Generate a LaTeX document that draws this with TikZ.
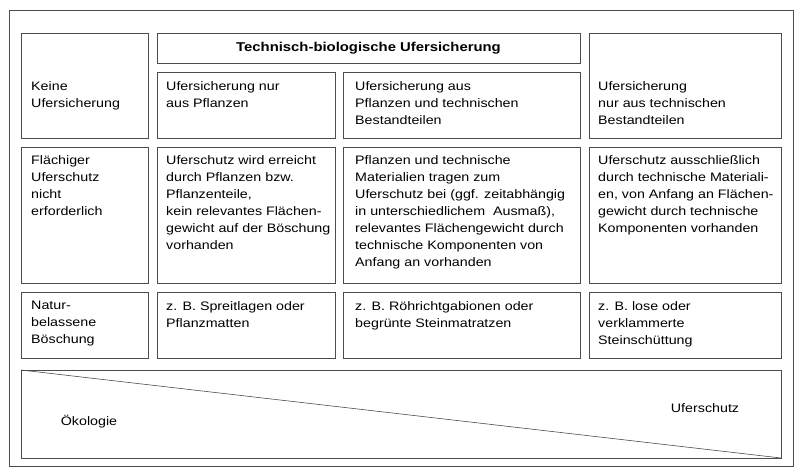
\documentclass[tikz,border=0pt]{standalone}
\usepackage{fontspec}
\setmainfont{Liberation Sans}[FakeStretch=1.16]
\begin{document}
\begin{tikzpicture}[x=1pt,y=-1pt,
  cell/.style={draw=black!70,line width=0.6pt},
  txt/.style={anchor=north west,align=left,font=\fontsize{12.3}{17}\selectfont,inner sep=0pt}]
\useasboundingbox (0,0) rectangle (800,474);
\draw[cell] (9,10) rectangle (793,466);
% header
\draw[cell] (157,33) rectangle (580,63);
\node[font=\bfseries\fontsize{12.8}{15}\selectfont] (hd) at (368.5,48) {Technisch-biologische Ufersicherung};
% row 1
\draw[cell] (21,33) rectangle (148,138);
\draw[cell] (157,72) rectangle (335,138);
\draw[cell] (343,72) rectangle (580,138);
\draw[cell] (589,33) rectangle (781,138);
\node[txt] (a1) at (31,81) {Keine\\Ufersicherung};
\node[txt] (b1) at (166,81) {Ufersicherung nur\\aus Pflanzen};
\node[txt] (c1) at (355,81) {Ufersicherung aus\\Pflanzen und technischen\\Bestandteilen};
\node[txt] (d1) at (598,81) {Ufersicherung\\nur aus technischen\\Bestandteilen};
% row 2
\draw[cell] (21,147) rectangle (148,283);
\draw[cell] (157,147) rectangle (335,283);
\draw[cell] (343,147) rectangle (580,283);
\draw[cell] (589,147) rectangle (781,283);
\node[txt] (a2) at (31,155) {Flächiger\\Uferschutz\\nicht\\erforderlich};
\node[txt] (b2) at (166,155) {Uferschutz wird erreicht\\durch Pflanzen bzw.\\Pflanzenteile,\\kein relevantes Flächen-\\gewicht auf der Böschung\\vorhanden};
\node[txt] (c2) at (355,155) {Pflanzen und technische\\Materialien tragen zum\\Uferschutz bei (ggf. zeitabhängig\\in unterschiedlichem \ Ausmaß),\\relevantes Flächengewicht durch\\technische Komponenten von\\Anfang an vorhanden};
\node[txt] (d2) at (598,155) {Uferschutz ausschließlich\\durch technische Materiali-\\en, von Anfang an Flächen-\\gewicht durch technische\\Komponenten vorhanden};
% row 3
\draw[cell] (21,292) rectangle (148,358);
\draw[cell] (157,292) rectangle (335,358);
\draw[cell] (343,292) rectangle (580,358);
\draw[cell] (589,292) rectangle (781,358);
\node[txt] (a3) at (31,301) {Natur-\\belassene\\Böschung};
\node[txt] (b3) at (166,301) {z. B. Spreitlagen oder\\Pflanzmatten};
\node[txt] (c3) at (355,301) {z. B. Röhrichtgabionen oder\\begrünte Steinmatratzen};
\node[txt] (d3) at (598,301) {z. B. lose oder\\verklammerte\\Steinschüttung};
% bottom
\draw[cell] (21,370) rectangle (781,458);
\coordinate (tl) at (21,370);
\coordinate (br) at (781,458);
\draw[black!70,line width=0.6pt] (tl) -- (br);
\node[font=\fontsize{12.3}{15}\selectfont] (oe) at (89,422) {Ökologie};
\node[font=\fontsize{12.3}{15}\selectfont] (us) at (705,408) {Uferschutz};
\end{tikzpicture}
\end{document}
